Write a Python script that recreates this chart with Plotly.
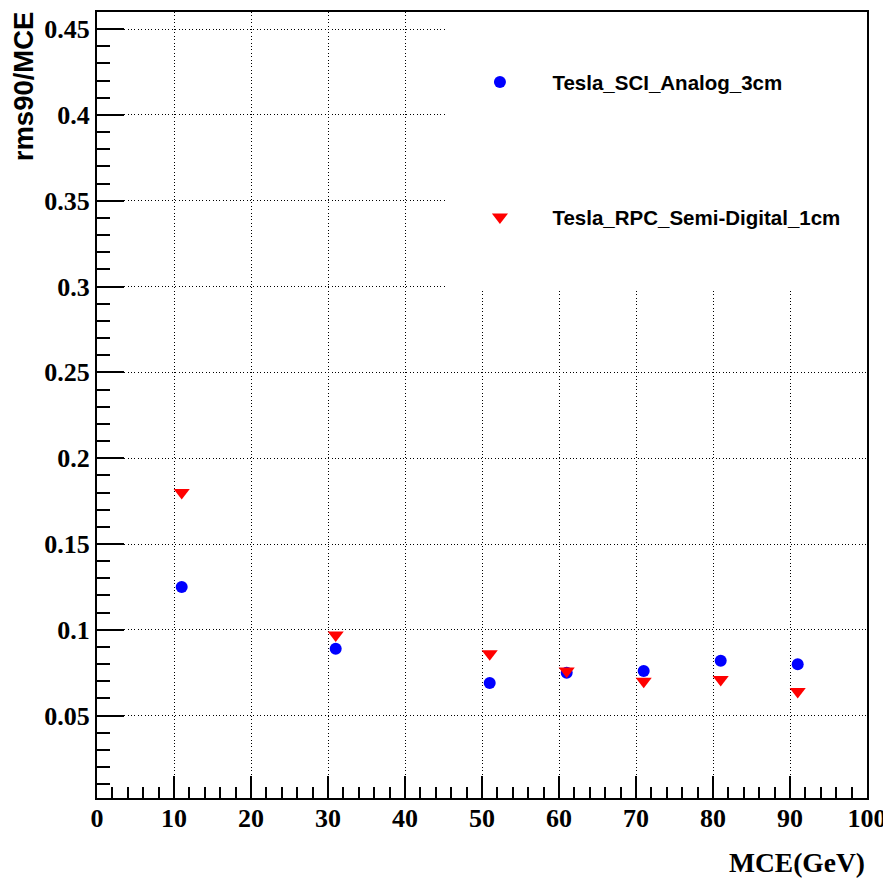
import plotly.graph_objects as go

energies = [11, 31, 51, 61, 71, 81, 91]
sci_analog = [0.125, 0.089, 0.069, 0.075, 0.076, 0.082, 0.080]
rpc_semidigital = [0.180, 0.097, 0.086, 0.076, 0.070, 0.071, 0.064]
series_names = ["Tesla_SCI_Analog_3cm", "Tesla_RPC_Semi-Digital_1cm"]

fig = go.Figure()
fig.add_trace(go.Scatter(
    x=energies, y=sci_analog, mode="markers", name=series_names[0],
    legendgroup="a",
    marker=dict(symbol="circle", size=12, color="#0000ff", line=dict(width=0)),
))
fig.add_trace(go.Scatter(
    x=energies, y=rpc_semidigital, mode="markers", name=series_names[1],
    legendgroup="b",
    marker=dict(symbol="triangle-down", size=14, color="#ff0000", line=dict(width=0)),
))

serif = dict(family="Liberation Serif", size=26, color="black", weight="bold")
sans = dict(family="Liberation Sans", size=20.5, color="black", weight="bold")

# white legend box covering the grid in the upper right
fig.add_shape(type="rect", xref="x", yref="y", x0=45.2, x1=100, y0=0.299, y1=0.46,
              fillcolor="white", line=dict(width=0), layer="between")

fig.update_layout(
    width=883, height=871,
    margin=dict(l=89, r=24, t=4, b=81, autoexpand=False),
    paper_bgcolor="white", plot_bgcolor="white",
    showlegend=True,
    legend=dict(
        x=0.4551, xanchor="left", y=0.9363, yanchor="top",
        bgcolor="rgba(0,0,0,0)", borderwidth=0,
        font=sans, itemwidth=95, tracegroupgap=105.5,
    ),
    xaxis=dict(
        range=[0, 100], tick0=0, dtick=10,
        showline=True, linecolor="black", linewidth=2, mirror=True,
        ticks="inside", ticklen=22, tickwidth=1.5, tickcolor="black",
        tickfont=serif, ticklabelstandoff=-4, ticklabeloverflow="allow",
        showgrid=True, gridcolor="black", gridwidth=1, griddash="1px,2.4px",
        zeroline=False,
        minor=dict(dtick=2, ticks="inside", ticklen=11, tickwidth=1.5,
                   tickcolor="black", showgrid=False),
    ),
    yaxis=dict(
        range=[0.002, 0.46],
        tickvals=[0.05, 0.1, 0.15, 0.2, 0.25, 0.3, 0.35, 0.4, 0.45],
        ticktext=["0.05", "0.1", "0.15", "0.2", "0.25", "0.3", "0.35", "0.4", "0.45"],
        showline=True, linecolor="black", linewidth=2, mirror=True,
        ticks="inside", ticklen=27, tickwidth=1.5, tickcolor="black",
        tickfont=serif, ticklabelstandoff=0, ticklabeloverflow="allow",
        showgrid=True, gridcolor="black", gridwidth=1, griddash="1px,2.4px",
        zeroline=False,
        minor=dict(dtick=0.01, tick0=0, ticks="inside", ticklen=13, tickwidth=1.5,
                   tickcolor="black", showgrid=False),
    ),
    annotations=[
        dict(text="rms90/MCE", xref="paper", yref="paper", x=-0.0955, y=1.004,
             xanchor="center", yanchor="top", textangle=-90, showarrow=False,
             font=dict(family="Liberation Sans", size=27.5, color="black", weight="bold")),
        dict(text="MCE(GeV)", xref="paper", yref="paper", x=1.0, y=-0.0815,
             xanchor="right", yanchor="middle", showarrow=False,
             font=dict(family="Liberation Serif", size=27.5, color="black", weight="bold")),
    ],
)

fig.write_html("out.html")
